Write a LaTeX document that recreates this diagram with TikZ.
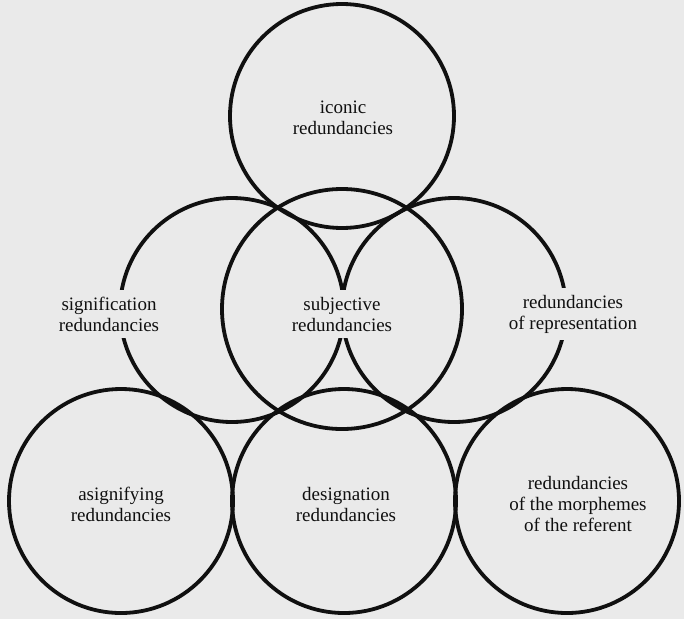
\documentclass[tikz,border=0pt]{standalone}
\usepackage{fontspec}
\setmainfont{Liberation Serif}
\definecolor{paper}{HTML}{EAEAEA}
\definecolor{ink}{HTML}{101010}
\begin{document}
\begin{tikzpicture}[x=1pt,y=-1pt,
  ring/.style={circle,draw=ink,line width=3.8pt,inner sep=0pt,minimum size=224pt},
  bigring/.style={ring,minimum size=240pt},
  lbl/.style={fill=paper,text=ink,align=center,inner xsep=3pt,inner ysep=7pt,font=\fontsize{19}{21}\selectfont}]
\fill[paper] (0,0) rectangle (684,619);
\useasboundingbox (0,0) rectangle (684,619);
% circles
\node[ring] (top) at (342,116) {};
\node[ring] (midl) at (232,310) {};
\node[ring] (midr) at (454,310) {};
\node[bigring] (subj) at (342,309) {};
\node[ring] (botl) at (121,501) {};
\node[ring] (botm) at (344,501) {};
\node[ring] (botr) at (567,501) {};
% labels
\node[lbl] (ltop) at (343,118) {iconic\\redundancies};
\node[lbl] (lmidl) at (109,314) {signification\\redundancies};
\node[lbl] (lsubj) at (342,314) {subjective\\redundancies};
\node[lbl] (lmidr) at (573,314) {redundancies\\of representation};
\node[lbl] (lbotl) at (121,504) {asignifying\\redundancies};
\node[lbl] (lbotm) at (346,504) {designation\\redundancies};
\node[lbl] (lbotr) at (578,504) {redundancies\\of the morphemes\\of the referent};
\end{tikzpicture}
\end{document}
